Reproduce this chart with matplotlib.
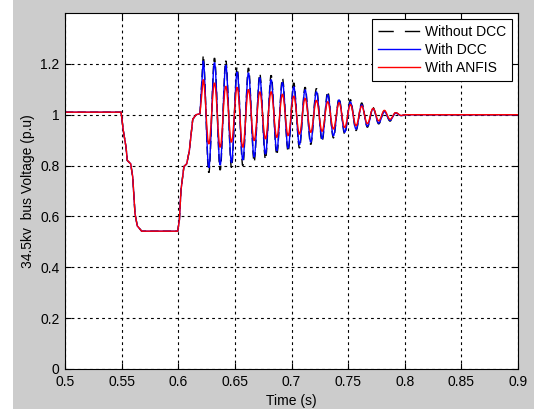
import matplotlib
matplotlib.use("Agg")
import matplotlib.pyplot as plt
from matplotlib.patches import Rectangle, PathPatch
from matplotlib.path import Path
from matplotlib.lines import Line2D

plt.rcParams['font.family'] = ['Liberation Sans', 'DejaVu Sans']
plt.rcParams['font.size'] = 10

# common sag / recovery part (s, p.u.)
fault_t = [0.5, 0.5495, 0.5515, 0.5539, 0.555, 0.558, 0.5598, 0.5618, 0.5638, 0.5677,
           0.5995, 0.601, 0.6024, 0.605, 0.6075, 0.6098, 0.6128, 0.6157, 0.6192]
fault_v = [1.01, 1.01, 0.937, 0.872, 0.82, 0.807, 0.755, 0.612, 0.563, 0.542,
           0.542, 0.586, 0.703, 0.796, 0.807, 0.859, 0.982, 1.0, 1.004]

# oscillation extrema
peak_t = [0.622, 0.632, 0.642, 0.652, 0.662, 0.672, 0.682, 0.692, 0.702,
          0.712, 0.722, 0.732, 0.742, 0.752, 0.762, 0.772, 0.782, 0.792]
trough_t = [0.627, 0.637, 0.647, 0.657, 0.667, 0.677, 0.687, 0.697, 0.707,
            0.717, 0.727, 0.737, 0.747, 0.757, 0.767, 0.777, 0.787, 0.797]

nodcc_peaks = [1.232, 1.223, 1.212, 1.186, 1.184, 1.160, 1.155, 1.142, 1.125,
               1.108, 1.103, 1.090, 1.064, 1.059, 1.046, 1.028, 1.015, 1.008]
nodcc_troughs = [0.772, 0.782, 0.792, 0.800, 0.816, 0.826, 0.843, 0.856, 0.869,
                 0.883, 0.896, 0.909, 0.924, 0.938, 0.951, 0.964, 0.975, 0.995]

dcc_peaks = [1.212, 1.205, 1.195, 1.168, 1.165, 1.146, 1.138, 1.127, 1.11,
             1.098, 1.09, 1.078, 1.058, 1.05, 1.039, 1.024, 1.012, 1.006]
dcc_troughs = [0.792, 0.802, 0.812, 0.822, 0.833, 0.845, 0.858, 0.868, 0.882,
               0.892, 0.906, 0.917, 0.931, 0.943, 0.955, 0.967, 0.978, 0.996]

anfis_peaks = [1.138, 1.125, 1.112, 1.108, 1.099, 1.090, 1.090, 1.080, 1.073,
               1.064, 1.056, 1.051, 1.047, 1.040, 1.034, 1.025, 1.017, 1.008]
anfis_troughs = [0.885, 0.872, 0.892, 0.872, 0.898, 0.905, 0.911, 0.918, 0.924,
                 0.931, 0.935, 0.944, 0.950, 0.957, 0.965, 0.976, 0.982, 0.997]

settle_t = [0.8, 0.9]
settle_v = [1.0, 1.0]


def build_path(peaks, troughs):
    # straight segments for the sag, smooth (bezier) swings between extrema
    verts = [(fault_t[0], fault_v[0])]
    codes = [Path.MOVETO]
    for x, y in zip(fault_t[1:], fault_v[1:]):
        verts.append((x, y))
        codes.append(Path.LINETO)
    ext = []
    for pt, pv, tt, tv in zip(peak_t, peaks, trough_t, troughs):
        ext += [(pt, pv), (tt, tv)]
    verts.append(ext[0])
    codes.append(Path.LINETO)
    for (x0, y0), (x1, y1) in zip(ext[:-1], ext[1:]):
        k = 0.36 * (x1 - x0)
        verts += [(x0 + k, y0), (x1 - k, y1), (x1, y1)]
        codes += [Path.CURVE4] * 3
    for x, y in zip(settle_t, settle_v):
        verts.append((x, y))
        codes.append(Path.LINETO)
    return Path(verts, codes)


fig = plt.figure(figsize=(5.34, 4.09), dpi=100, facecolor='#cccccc')
fig.patches.append(Rectangle((0, 0), 13 / 534, 1, transform=fig.transFigure,
                             facecolor='white', edgecolor='none', zorder=-10))
ax = fig.add_axes([65 / 534, 1 - 369 / 409, 453 / 534, 356 / 409])

styles = [
    ('Without DCC', nodcc_peaks, nodcc_troughs, dict(color='black', lw=1.0, ls=(0, (6, 3))),
     (0, (11, 8))),
    ('With DCC', dcc_peaks, dcc_troughs, dict(color='blue', lw=1.0, ls='-'), '-'),
    ('With ANFIS', anfis_peaks, anfis_troughs, dict(color='red', lw=1.0, ls='-'), '-'),
]
handles = []
for i, (name, pk, tr, st, leg_ls) in enumerate(styles):
    patch = PathPatch(build_path(pk, tr), facecolor='none', edgecolor=st['color'],
                      lw=st['lw'], linestyle=st['ls'], zorder=2 + i)
    ax.add_patch(patch)
    handles.append(Line2D([], [], color=st['color'], lw=st['lw'], linestyle=leg_ls))

ax.set_xlim(0.5, 0.9)
ax.set_ylim(0, 1.4)
ax.set_xticks([0.5, 0.55, 0.6, 0.65, 0.7, 0.75, 0.8, 0.85, 0.9])
ax.set_xticklabels(['0.5', '0.55', '0.6', '0.65', '0.7', '0.75', '0.8', '0.85', '0.9'])
ax.set_yticks([0, 0.2, 0.4, 0.6, 0.8, 1.0, 1.2])
ax.set_yticklabels(['0', '0.2', '0.4', '0.6', '0.8', '1', '1.2'])
ax.grid(True, color='black', linestyle=(0, (2.5, 3)), linewidth=0.8)
ax.set_axisbelow(True)
ax.tick_params(direction='in', top=True, right=True, length=4, pad=4)
for s in ax.spines.values():
    s.set_linewidth(0.8)
    s.set_zorder(10)

ax.set_xlabel('Time (s)', labelpad=4)
ax.set_ylabel('34.5kv  bus Voltage (p.u)', labelpad=4)

leg = ax.legend(handles, [s[0] for s in styles], loc='upper right', fancybox=False,
                framealpha=1, edgecolor='black', borderaxespad=0.45,
                handlelength=3.0, handletextpad=0.4, labelspacing=0.3, borderpad=0.4)
leg.get_frame().set_linewidth(0.8)

fig.savefig('out.png', dpi=100, facecolor=fig.get_facecolor())
